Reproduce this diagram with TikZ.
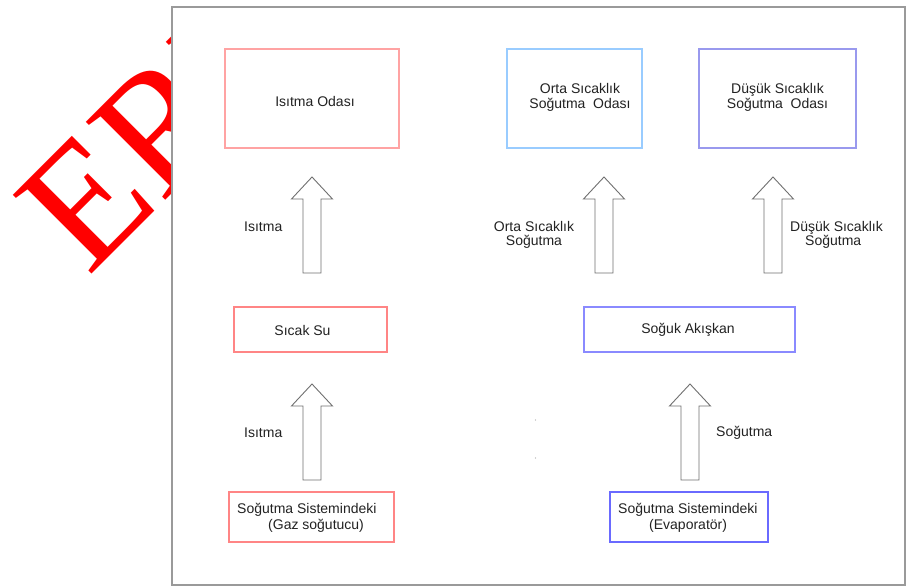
\documentclass[tikz,border=0pt]{standalone}
\usepackage{fontspec}
\setmainfont{Liberation Sans}
\newfontfamily\wmfont{Liberation Serif}
\usetikzlibrary{calc}
\definecolor{frm}{HTML}{9A9A9A}
\definecolor{txt}{HTML}{222222}
\definecolor{arr}{HTML}{707070}
\definecolor{lred}{HTML}{FFA3A3}
\definecolor{mred}{HTML}{FF8585}
\definecolor{lblue}{HTML}{99CCFF}
\definecolor{vblue}{HTML}{9999EE}
\definecolor{mblue}{HTML}{8A8AFF}
\definecolor{dblue}{HTML}{6A6AFF}
\definecolor{wmred}{HTML}{FF0000}
\newcommand\blockarr[4]{% name, x, tip y, bottom y
  \coordinate (#1tip) at (#2,#3);
  \coordinate (#1bot) at (#2,#4);
  \draw[arrline] ($(#1bot)+(-9,0)$) -- ($(#1tip)+(-9,22)$) -- ($(#1tip)+(-20.5,22)$) -- (#1tip)
    -- ($(#1tip)+(20.5,22)$) -- ($(#1tip)+(9,22)$) -- ($(#1bot)+(9,0)$) -- cycle;}
\begin{document}
\begin{tikzpicture}[x=1pt,y=-1pt,
  boxnode/.style={draw, line width=1.2pt, fill=white, inner sep=0pt},
  lbl/.style={text=txt, font=\fontsize{14}{14}\selectfont, inner sep=0pt},
  lbltwo/.style={text=txt, font=\fontsize{14}{15}\selectfont, inner sep=0pt, align=center},
  arrline/.style={draw=arr, line width=0.9pt, fill=white, line join=miter}]
\useasboundingbox (0,0) rectangle (908,588);
\fill[white] (0,0) rectangle (908,588);
% watermark
\begin{scope}
  \clip (0,0) rectangle (171,588);
  \node[rotate=45, anchor=base west, inner sep=0pt, text=wmred, font=\wmfont\fontsize{170}{170}\selectfont] (wm) at (88,278) {ERROR};
\end{scope}
% frame
\draw[frm, line width=1.5pt, fill=white] (172,7) rectangle (905,585);
% top boxes
\node[boxnode, draw=lred, minimum width=174pt, minimum height=99pt] (odasi) at (312,98.5) {};
\node[lbl] (odasit) at (315,101) {Isıtma Odası};
\node[boxnode, draw=lblue, minimum width=135pt, minimum height=99pt] (orta) at (574.5,98.5) {};
\node[lbltwo] (ortat) at (580,97.5) {Orta Sıcaklık\\Soğutma\ \ Odası};
\node[boxnode, draw=vblue, minimum width=157pt, minimum height=99pt] (dusuk) at (777.5,98.5) {};
\node[lbltwo] (dusukt) at (777.5,97.5) {Düşük Sıcaklık\\Soğutma\ \ Odası};
% middle boxes
\node[boxnode, draw=mred, minimum width=153pt, minimum height=45pt] (sicak) at (310.5,329.5) {};
\node[lbl] (sicakt) at (302.5,330) {Sıcak Su};
\node[boxnode, draw=mblue, minimum width=211pt, minimum height=45pt] (soguk) at (689.5,329.5) {};
\node[lbl] (sogukt) at (688,330) {Soğuk Akışkan};
% bottom boxes
\node[boxnode, draw=mred, minimum width=165pt, minimum height=50pt] (gaz) at (311.5,517) {};
\node[lbl, anchor=west] (gazt1) at (237,510) {Soğutma Sistemindeki};
\node[lbl, anchor=west] (gazt2) at (268,526) {(Gaz soğutucu)};
\node[boxnode, draw=dblue, minimum width=158pt, minimum height=50pt] (evap) at (689,517) {};
\node[lbl, anchor=west] (evapt1) at (618,510) {Soğutma Sistemindeki};
\node[lbl, anchor=west] (evapt2) at (649,526) {(Evaporatör)};
% arrows
\blockarr{a1}{312}{177}{273}
\blockarr{a2}{604}{177}{273}
\blockarr{a3}{773}{177}{273}
\blockarr{a4}{312}{384}{480}
\blockarr{a5}{690}{384}{480}
% arrow labels
\node[lbl, anchor=west] (l1) at (244,227) {Isıtma};
\node[lbltwo, font=\fontsize{14}{14}\selectfont] (l2) at (534,235) {Orta Sıcaklık\\Soğutma};
\node[lbl, anchor=west] (l3a) at (790,228) {Düşük Sıcaklık};
\node[lbl, anchor=west] (l3b) at (805,242) {Soğutma};
\node[lbl, anchor=west] (l4) at (244,433) {Isıtma};
\node[lbl, anchor=west] (l5) at (716,433) {Soğutma};
% stray dots
\fill[gray!70] (535.5,420) circle (0.6pt);
\fill[gray!70] (535.5,458) circle (0.6pt);
\end{tikzpicture}
\end{document}
